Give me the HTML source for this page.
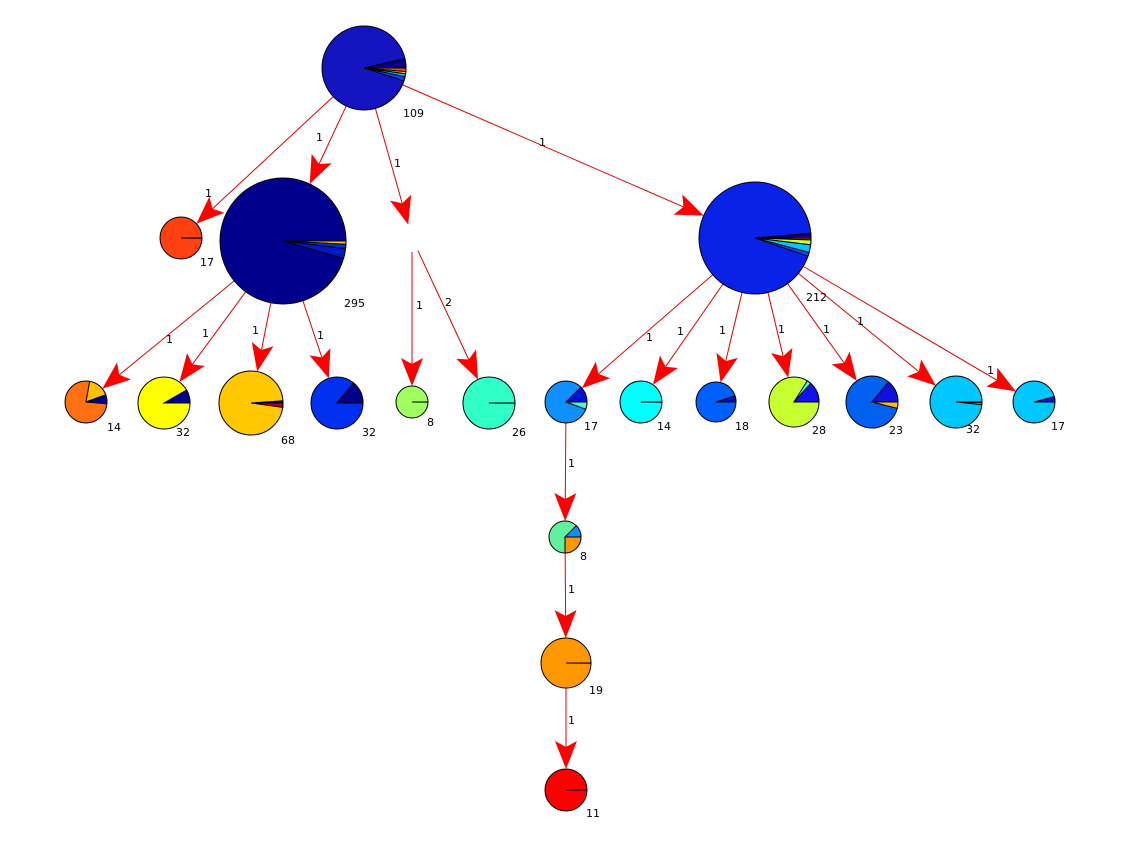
<!DOCTYPE html>
<html><head><meta charset="utf-8"><style>
html,body{margin:0;padding:0;background:#fff;}
svg{display:block;}
text{font-family:"DejaVu Sans","Liberation Sans",sans-serif;font-size:11px;fill:#000;}
</style></head><body>
<svg id="s" width="1121" height="842" viewBox="0 0 1121 842" xmlns="http://www.w3.org/2000/svg">
<g id="edges"></g><g id="nodes"></g>
<g id="labels">
<text x="403" y="117">109</text>
<text x="200" y="266">17</text>
<text x="344" y="307">295</text>
<text x="806" y="301">212</text>
<text x="107" y="431">14</text>
<text x="176" y="436">32</text>
<text x="281" y="444">68</text>
<text x="362" y="436">32</text>
<text x="427" y="426">8</text>
<text x="512" y="436">26</text>
<text x="584" y="430">17</text>
<text x="657" y="430">14</text>
<text x="735" y="430">18</text>
<text x="812" y="434">28</text>
<text x="889" y="434">23</text>
<text x="966" y="433">32</text>
<text x="1051" y="430">17</text>
<text x="580" y="560">8</text>
<text x="589" y="694">19</text>
<text x="586" y="817">11</text>
<text x="316" y="141">1</text>
<text x="394" y="167">1</text>
<text x="539" y="146">1</text>
<text x="205" y="197">1</text>
<text x="166" y="343">1</text>
<text x="202" y="337">1</text>
<text x="252" y="334">1</text>
<text x="317" y="339">1</text>
<text x="416" y="309">1</text>
<text x="445" y="306">2</text>
<text x="646" y="341">1</text>
<text x="677" y="335">1</text>
<text x="719" y="334">1</text>
<text x="778" y="333">1</text>
<text x="823" y="333">1</text>
<text x="857" y="325">1</text>
<text x="987" y="374">1</text>
<text x="568" y="467">1</text>
<text x="568" y="593">1</text>
<text x="568" y="724">1</text>
</g>
</svg>
<script>
var N={
root:[364,68,42,'#1414c0',[[-13,-1,'#00008c'],[0,5,'#ff4010'],[5,8,'#ffd000'],[8,12,'#00c0ff'],[12,18,'#0040ff']]],
o17:[181,238,21,'#ff4010',[[0,0.5,'#000']]],
b295:[283,241,63,'#00008c',[[0,3,'#ffc000'],[3,7,'#0030e0'],[7,16,'#0018c8']]],
inv:[412,238,14,null,[]],
rb:[755,238,56,'#0a22e8',[[-5,0,'#00008c'],[0,2,'#ff2000'],[2,7,'#c8ff30'],[7,15,'#00c8ff'],[15,19,'#0050ff']]],
A:[86,402,21,'#ff7010',[[-80,-20,'#ffc000'],[-20,5,'#00008c']]],
B:[164,403,26,'#ffff00',[[-30,0,'#00008c']]],
C:[251,403,32,'#ffc800',[[-4,0,'#00008c'],[0,8,'#c00000']]],
D:[337,403,26,'#0030f0',[[-50,0,'#00008c']]],
E:[412,402,16,'#a0ff60',[[0,0.5,'#000']]],
F:[489,403,26,'#30ffc8',[[0,0.5,'#000']]],
G:[566,402,21,'#1090ff',[[-45,0,'#0010d0'],[0,20,'#40ffd8']]],
H:[641,402,21,'#00ffff',[[0,0.5,'#000']]],
I:[716,402,20,'#0060ff',[[-18,0,'#0010b0']]],
J:[794,402,25,'#c8ff30',[[-58,-48,'#40ffd8'],[-48,0,'#1010f0']]],
K:[872,402,26,'#0060f0',[[-50,0,'#1010e0'],[0,14,'#ffc000']]],
L:[956,402,26,'#00c8ff',[[0,2,'#00008c'],[2,6,'#40ffd8']]],
M:[1034,402,21,'#00c8ff',[[-15,0,'#1010d0']]],
c1:[565,537,16,'#60f0a0',[[-45,0,'#1090ff'],[0,90,'#ff9800']]],
c2:[566,663,25,'#ff9800',[[0,0.5,'#000']]],
c3:[566,790,21,'#ff0000',[[0,0.5,'#000']]]
};
var E=[['root','o17'],['root','b295'],['root','inv'],['root','rb'],['b295','A'],['b295','B'],['b295','C'],['b295','D'],['inv','E'],['inv','F'],['rb','G'],['rb','H'],['rb','I'],['rb','J'],['rb','K'],['rb','L'],['rb','M'],['G','c1'],['c1','c2'],['c2','c3']];
var ns='http://www.w3.org/2000/svg';
function el(t,a,p){var e=document.createElementNS(ns,t);for(var k in a)e.setAttribute(k,a[k]);p.appendChild(e);return e;}
var eg=document.getElementById('edges'),ng=document.getElementById('nodes');
E.forEach(function(e){var s=N[e[0]],t=N[e[1]];var dx=t[0]-s[0],dy=t[1]-s[1],d=Math.hypot(dx,dy),ux=dx/d,uy=dy/d;
var sx=s[0]+ux*s[2],sy=s[1]+uy*s[2],tx=t[0]-ux*t[2],ty=t[1]-uy*t[2];
var L=28,W=11,n=6,px=-uy,py=ux;
el('line',{x1:sx,y1:sy,x2:tx-ux*(L-n),y2:ty-uy*(L-n),stroke:'#e00000','stroke-width':1},eg);
var bx=tx-ux*L,by=ty-uy*L;
var pts=[[tx,ty],[bx+px*W,by+py*W],[tx-ux*(L-n),ty-uy*(L-n)],[bx-px*W,by-py*W]];
el('polygon',{points:pts.map(function(p){return p.join(',')}).join(' '),fill:'#ff0000'},eg);});
function pt(c,r,a){a=a*Math.PI/180;return [c[0]+r*Math.cos(a),c[1]+r*Math.sin(a)];}
for(var k in N){var c=N[k];if(!c[3])continue;var r=c[2];
el('circle',{cx:c[0],cy:c[1],r:r,fill:c[3],stroke:'#000','stroke-width':1},ng);
c[4].forEach(function(w){var a=pt(c,r,w[0]),b=pt(c,r,w[1]);var large=(w[1]-w[0])>180?1:0;
el('path',{d:'M'+c[0]+','+c[1]+' L'+a[0]+','+a[1]+' A'+r+','+r+' 0 '+large+' 1 '+b[0]+','+b[1]+' Z',fill:w[2],stroke:'#000','stroke-width':1},ng);});}
</script>
</body></html>
